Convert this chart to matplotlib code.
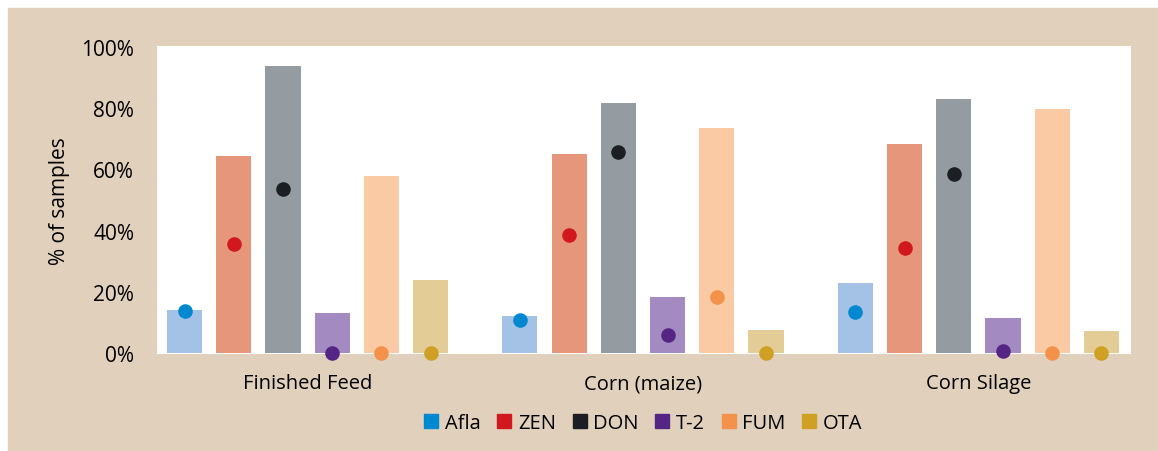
import numpy as np
import matplotlib.pyplot as plt
from matplotlib.lines import Line2D

# categories and mycotoxins
groups = ['Finished Feed', 'Corn (maize)', 'Corn Silage']
toxins = ['Afla', 'ZEN', 'DON', 'T-2', 'FUM', 'OTA']

# % of samples positive (bars) per toxin, one list per group
prevalence = {
    'Afla': [14, 12, 23],
    'ZEN': [64.5, 65, 68.3],
    'DON': [93.8, 81.7, 83],
    'T-2': [13.1, 18.3, 11.4],
    'FUM': [57.8, 73.5, 79.7],
    'OTA': [23.9, 7.5, 7.2],
}
# % of samples above risk threshold (dots)
risk = {
    'Afla': [13.7, 10.8, 13.3],
    'ZEN': [35.7, 38.6, 34.3],
    'DON': [53.7, 65.8, 58.4],
    'T-2': [0, 5.9, 0.8],
    'FUM': [0, 18.2, 0],
    'OTA': [0, 0, 0],
}

bar_colors = ['#a4c1e6', '#e6967a', '#949ca1', '#a38bc1', '#f9caa4', '#e3cc96']
dot_colors = ['#0088d0', '#d2181f', '#1b1e22', '#552586', '#f4914a', '#cfa024']
bg = '#e1d1bc'

plt.rcParams['font.family'] = ['Open Sans', 'DejaVu Sans']

fig = plt.figure(figsize=(11.58, 4.52), dpi=100)
fig.patch.set_facecolor('white')
# beige panel behind the chart
fig.patches.append(plt.Rectangle((8 / 1158, 0), 1, 1 - 9 / 452,
                                 transform=fig.transFigure, color=bg, zorder=-10))

ax = fig.add_axes([157 / 1158, 97 / 452, (1131 - 157) / 1158, (355 - 47) / 452])
ax.set_facecolor('white')

x = np.arange(len(groups))
step = 0.1467
width = 0.1044
for i, t in enumerate(toxins):
    pos = x + (i - 2.5) * step
    ax.bar(pos, prevalence[t], width=width, color=bar_colors[i], zorder=2)
    ax.scatter(pos, risk[t], s=110, color=dot_colors[i], zorder=3, clip_on=False,
               linewidths=0)

ax.set_xlim(-0.449, 2.455)
ax.set_ylim(-0.3, 100.3)
ax.set_yticks(range(0, 101, 20))
ax.set_yticklabels([f'{v}%' for v in range(0, 101, 20)], fontsize=15)
ax.set_xticks(x)
ax.set_xticklabels(groups, fontsize=14.5)
ax.tick_params(axis='both', length=0)
ax.tick_params(axis='y', pad=16.5)
ax.tick_params(axis='x', pad=14)
for s in ax.spines.values():
    s.set_visible(False)
ax.set_ylabel('% of samples', fontsize=15, labelpad=8)

handles = [Line2D([], [], marker='s', linestyle='none', markersize=10,
                  markerfacecolor=c, markeredgecolor=c) for c in dot_colors]
fig.legend(handles, toxins, loc='center', bbox_to_anchor=(643.5 / 1158, 1 - 424 / 452),
           ncol=6, frameon=False, fontsize=14.5, handlelength=0.65,
           handletextpad=0.35, columnspacing=0.85)

fig.savefig('out.png', dpi=100, facecolor=fig.get_facecolor())
